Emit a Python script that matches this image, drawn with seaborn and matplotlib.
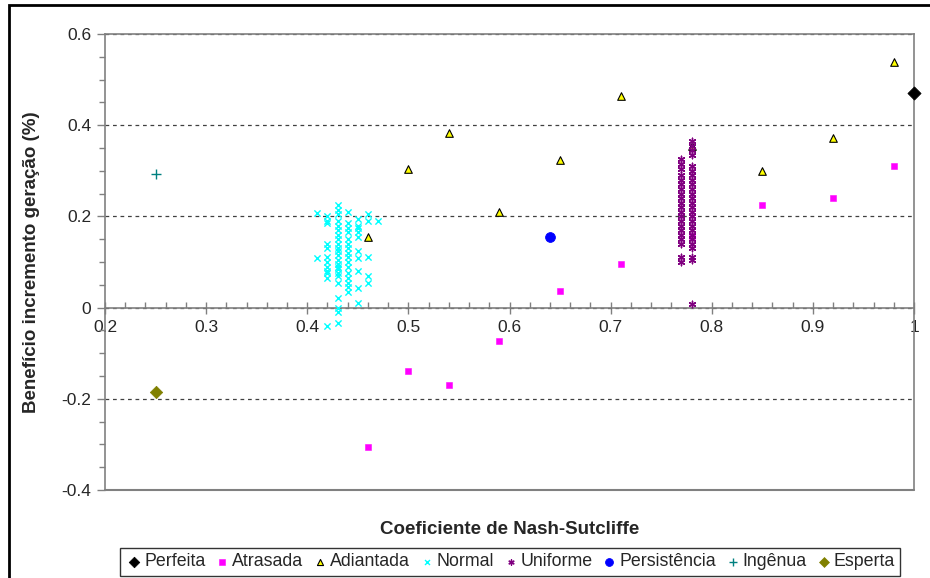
import matplotlib
matplotlib.use('Agg')
import matplotlib.pyplot as plt
import seaborn as sns
import pandas as pd
from matplotlib.ticker import MultipleLocator, FuncFormatter
from matplotlib.patches import Rectangle

# --- dados ---
perfeita_x = [1.0]
perfeita_y = [0.47]

atrasada_x = [0.46, 0.50, 0.54, 0.59, 0.65, 0.71, 0.78, 0.85, 0.92, 0.98]
atrasada_y = [-0.305, -0.138, -0.169, -0.073, 0.037, 0.096, 0.158, 0.226, 0.24, 0.31]

adiantada_x = [0.46, 0.50, 0.54, 0.59, 0.65, 0.71, 0.78, 0.85, 0.92, 0.98]
adiantada_y = [0.154, 0.305, 0.382, 0.209, 0.323, 0.464, 0.355, 0.299, 0.371, 0.538]

normal_cols = [0.41, 0.42, 0.43, 0.44, 0.45, 0.46, 0.47]
normal_vals = [
    [0.207, 0.108],
    [0.20, 0.19, 0.185, 0.14, 0.13, 0.11, 0.10, 0.09, 0.08, 0.075, 0.065, -0.04],
    [0.225, 0.215, 0.205, 0.19, 0.18, 0.17, 0.16, 0.15, 0.14, 0.13, 0.125, 0.115,
     0.105, 0.095, 0.09, 0.085, 0.075, 0.07, 0.055, 0.022, 0.0, -0.01, -0.033],
    [0.209, 0.185, 0.175, 0.165, 0.15, 0.14, 0.13, 0.12, 0.11, 0.10, 0.09, 0.075,
     0.064, 0.055, 0.045, 0.035],
    [0.195, 0.18, 0.175, 0.165, 0.155, 0.125, 0.108, 0.08, 0.042, 0.011],
    [0.206, 0.19, 0.11, 0.07, 0.055],
    [0.19],
]

uniforme_cols = [0.77, 0.78]
uniforme_vals = [
    [0.325, 0.315, 0.305, 0.29, 0.28, 0.27, 0.26, 0.25, 0.24, 0.23, 0.22, 0.21,
     0.20, 0.19, 0.18, 0.17, 0.16, 0.15, 0.14, 0.11, 0.10],
    [0.365, 0.355, 0.345, 0.335, 0.31, 0.30, 0.29, 0.28, 0.27, 0.26, 0.25, 0.24,
     0.23, 0.22, 0.21, 0.20, 0.19, 0.18, 0.17, 0.16, 0.15, 0.14, 0.13, 0.11,
     0.105, 0.008],
]

persist_x = [0.64]
persist_y = [0.155]

ingenua_x = [0.25]
ingenua_y = [0.292]

esperta_x = [0.25]
esperta_y = [-0.185]

normal_x = [c for c, v in zip(normal_cols, normal_vals) for _ in v]
normal_y = [y for v in normal_vals for y in v]
uniforme_x = [c for c, v in zip(uniforme_cols, uniforme_vals) for _ in v]
uniforme_y = [y for v in uniforme_vals for y in v]

series = [
    ('Perfeita', perfeita_x, perfeita_y, dict(marker='D', color='black', s=45, edgecolor='black')),
    ('Atrasada', atrasada_x, atrasada_y, dict(marker='s', color='#FF00FF', s=22, edgecolor='#FF00FF')),
    ('Adiantada', adiantada_x, adiantada_y, dict(marker='^', color='#FFFF00', s=30, edgecolor='black', linewidth=0.8)),
    ('Normal', normal_x, normal_y, dict(marker='x', color='#00FFFF', s=20, linewidth=1.0)),
    ('Uniforme', uniforme_x, uniforme_y, dict(marker=(6, 2, 0), color='#800080', s=22, linewidth=1.0)),
    ('Persistência', persist_x, persist_y, dict(marker='o', color='#0000FF', s=50, edgecolor='#0000FF')),
    ('Ingênua', ingenua_x, ingenua_y, dict(marker='+', color='#008080', s=55, linewidth=1.0)),
    ('Esperta', esperta_x, esperta_y, dict(marker='D', color='#808000', s=40, edgecolor='#808000')),
]

sns.set_style('white')
plt.rcParams['font.family'] = ['Liberation Sans', 'DejaVu Sans']

fig = plt.figure(figsize=(9.3, 5.78), dpi=100)
ax = fig.add_axes([105 / 930, 1 - 490 / 578, (914 - 105) / 930, (490 - 34) / 578])

for name, xs, ys, kw in series:
    df = pd.DataFrame({'x': xs, 'y': ys})
    sns.scatterplot(data=df, x='x', y='y', ax=ax, label=name, zorder=3, clip_on=False, **kw)

ax.set_xlim(0.2, 1.0)
ax.set_ylim(-0.4, 0.6)

gray = '#808080'
for sp in ax.spines.values():
    sp.set_color(gray)
    sp.set_linewidth(1.2)
ax.spines['bottom'].set_position(('data', 0))
ax.axhline(-0.4, color=gray, linewidth=1.5, clip_on=False, zorder=2)

ax.grid(axis='y', linestyle=(0, (3, 3)), color='#404040', linewidth=0.9)
ax.grid(axis='x', visible=False)

ax.xaxis.set_major_locator(MultipleLocator(0.1))
ax.xaxis.set_minor_locator(MultipleLocator(0.02))
ax.yaxis.set_major_locator(MultipleLocator(0.2))
ax.yaxis.set_minor_locator(MultipleLocator(0.05))
fmt = FuncFormatter(lambda v, p: '%g' % round(v, 2))
ax.xaxis.set_major_formatter(fmt)
ax.yaxis.set_major_formatter(fmt)

ax.tick_params(axis='x', which='major', direction='inout', length=8, width=1, color=gray,
               labelsize=12.5, pad=5, bottom=True)
ax.tick_params(axis='x', which='minor', direction='in', length=4, width=1, color=gray, bottom=True)
ax.tick_params(axis='y', which='major', direction='out', length=6, width=1, color=gray,
               labelsize=12.5, pad=4, left=True)
ax.tick_params(axis='y', which='minor', direction='out', length=4, width=1, color=gray, left=True)

ax.set_xlabel('Coeficiente de Nash-Sutcliffe', fontsize=13.5, fontweight='bold')
ax.set_ylabel('Benefício incremento geração (%)', fontsize=13.5, fontweight='bold')
ax.xaxis.set_label_coords(0.5, -(521 - 490) / (490 - 34))
ax.yaxis.set_label_coords(-(105 - 40) / (914 - 105), 0.5)

handles, labels = ax.get_legend_handles_labels()
ax.get_legend().remove()
leg = fig.legend(handles, labels, loc='center', bbox_to_anchor=(510 / 930, 1 - 562 / 578),
                 ncol=8, frameon=True, fancybox=False, edgecolor='black', fontsize=12.8,
                 handletextpad=0.05, columnspacing=0.45, borderpad=0.3, handlelength=1.0,
                 markerscale=0.8)
leg.get_frame().set_linewidth(1.0)

fig.patches.append(Rectangle((9 / 930, -0.05), 1.1, 1 - 5 / 578 + 0.05, transform=fig.transFigure,
                             fill=False, edgecolor='black', linewidth=2))

fig.savefig('out.png', dpi=100)
